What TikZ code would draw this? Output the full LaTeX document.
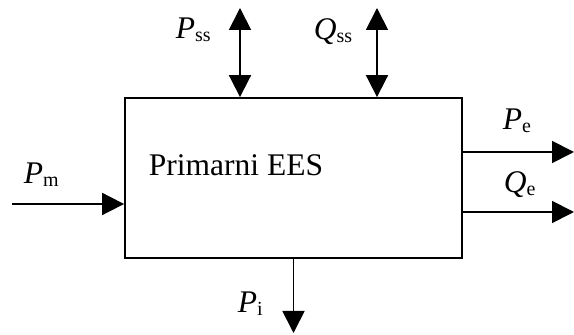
\documentclass[tikz,border=0pt]{standalone}
\usepackage{fontspec}
\setmainfont{Liberation Serif}
\usetikzlibrary{arrows.meta}

\newcommand{\sig}[2]{\textit{#1}\raisebox{-1.5pt}{\fontsize{10}{12}\selectfont #2}}

\begin{document}
\begin{tikzpicture}[x=0.5pt,y=-0.5pt,line width=0.9pt,
		font=\fontsize{15.75}{18}\selectfont]
			\tikzstyle{flow}=[-{Triangle[length=11pt,width=11pt]}]
			\tikzstyle{both}=[{Triangle[length=11pt,width=11pt]}-{Triangle[length=11pt,width=11pt]}]
			\tikzstyle{lab}=[anchor=base west, inner sep=0pt]
			\useasboundingbox (0,0) rectangle (574,335);
			
			% the block
			\node[draw, rectangle, minimum width=168.5pt, minimum height=80pt, inner sep=0pt] (ees) at (293.5,178) {};
			\node[lab] (name) at (148,176) {Primarni EES};
			
			% free ends of the flows
			\coordinate (pss) at (240,8);
			\coordinate (qss) at (377,8);
			\coordinate (pe) at (574,152);
			\coordinate (qe) at (574,212);
			\coordinate (pm) at (12,204);
			\coordinate (pi) at (293.5,333);
			
			\draw[both] (pss) to (pss |- ees.north);
			\draw[both] (qss) to (qss |- ees.north);
			\draw[flow] (pe -| ees.east) to (pe);
			\draw[flow] (qe -| ees.east) to (qe);
			\draw[flow] (pm) to (pm -| ees.west);
			\draw[flow] (ees.south) to (pi);
			
			\node[lab] at (175,39) {\sig{P}{ss}};
			\node[lab] at (313,40) {\sig{Q}{ss}};
			\node[lab] at (502,130) {\sig{P}{e}};
			\node[lab] at (503,193) {\sig{Q}{e}};
			\node[lab] at (23,184) {\sig{P}{m}};
			\node[lab] at (237,313) {\sig{P}{i}};
		\end{tikzpicture}
\end{document}
